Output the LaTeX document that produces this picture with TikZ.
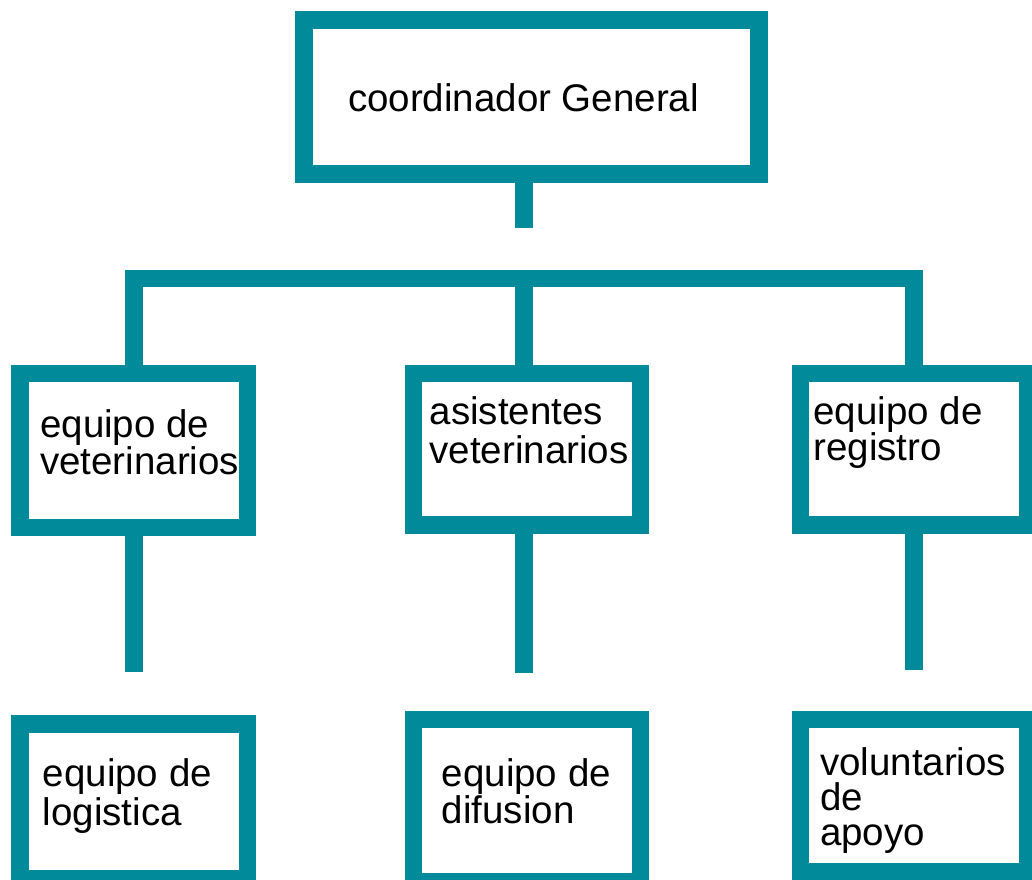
\documentclass[tikz,border=0pt]{standalone}
\usepackage{fontspec}
\setmainfont{Liberation Sans}
\definecolor{teal}{HTML}{008A9A}
\newcommand\lbltext[2]{\parbox[t]{400pt}{\fontsize{38.5pt}{#1}\selectfont\lineskiplimit=-100pt\lineskip=0pt #2}}
\begin{document}
\begin{tikzpicture}[x=1pt,y=-1pt,
  orgbox/.style={draw=teal,line width=17.5pt,fill=white,rectangle,inner sep=0pt,minimum width=227pt},
  link/.style={draw=teal,line width=17.5pt,line cap=butt,line join=miter},
  lbl/.style={anchor=base west,inner sep=0pt,outer sep=0pt}]
\useasboundingbox[fill=white] (0,0) rectangle (1032,879);
% boxes
\node[orgbox,minimum width=455pt,minimum height=154pt] (top) at (531.5,97) {};
\node[orgbox,minimum width=227.5pt,minimum height=154pt] (m1) at (133.75,450.5) {};
\node[orgbox,minimum height=151.5pt] (m2) at (527,449.25) {};
\node[orgbox,minimum height=151.5pt] (m3) at (914,449.25) {};
\node[orgbox,minimum width=227.5pt,minimum height=154.5pt] (b1) at (133.75,801.25) {};
\node[orgbox,minimum height=161.8pt] (b2) at (527,800.6) {};
\node[orgbox,minimum height=152.3pt] (b3) at (914,795.85) {};
% free ends
\coordinate (topend) at (524,227.7);
\coordinate (barL) at (133.75,278.7);
\coordinate (barM) at (524,278.7);
\coordinate (barR) at (914,278.7);
\coordinate (e1) at (133.75,671.7);
\coordinate (e2) at (524,672.7);
\coordinate (e3) at (914,669.5);
% connectors
\draw[link] (top.south -| topend) -- (topend);
\draw[link] (m1.north) -- (barL) -- (barR) -- (m3.north);
\draw[link] (barM) -- (m2.north -| barM);
\draw[link] (m1.south) -- (e1);
\draw[link] (m2.south -| e2) -- (e2);
\draw[link] (m3.south) -- (e3);
% texts
\node[lbl] (ttop) at (348,111.7) {\lbltext{38pt}{coordinador General}};
\node[lbl] (tm1) at (40.2,437.3) {\lbltext{37pt}{equipo de\\veterinarios}};
\node[lbl] (tm2) at (429.6,424) {\lbltext{39.3pt}{asistentes\\veterinarios}};
\node[lbl] (tm3) at (813.5,424) {\lbltext{36pt}{equipo de\\registro}};
\node[lbl] (tb1) at (42.8,786) {\lbltext{39pt}{equipo de\\logistica}};
\node[lbl] (tb2) at (441.8,786.7) {\lbltext{36.6pt}{equipo de\\difusion}};
\node[lbl] (tb3) at (820,775) {\lbltext{35pt}{voluntarios\\de\\apoyo}};
\end{tikzpicture}
\end{document}
